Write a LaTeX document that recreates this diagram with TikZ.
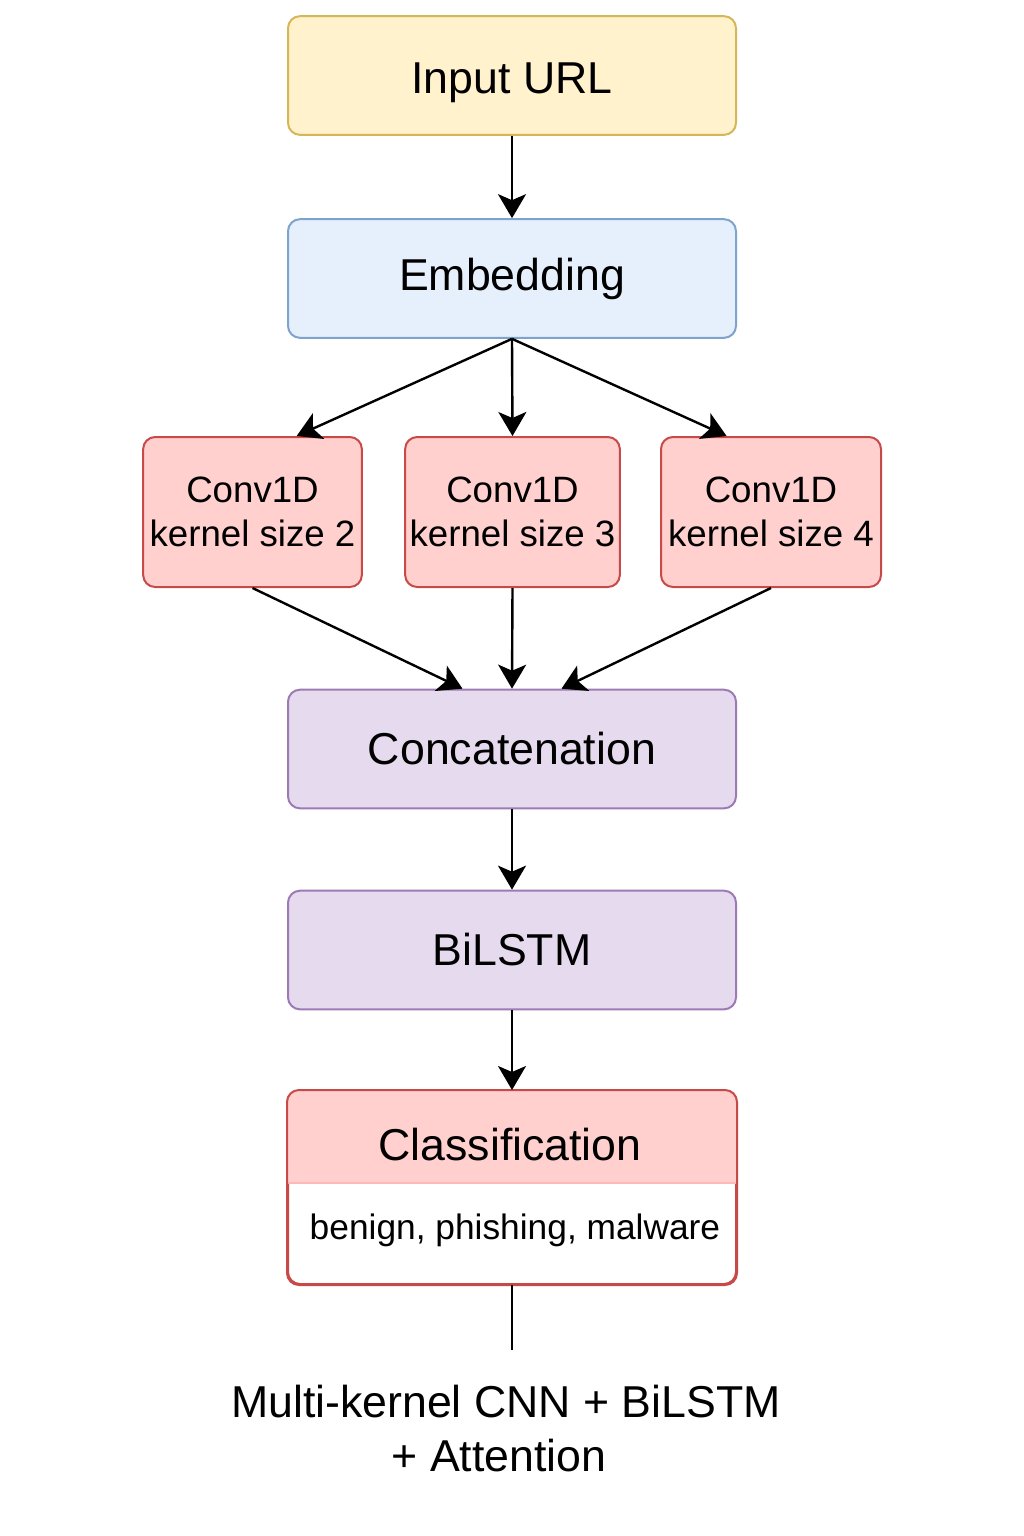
\documentclass[tikz,border=0pt]{standalone}
\usepackage{fontspec}
\setmainfont{Liberation Sans}
\usetikzlibrary{arrows.meta,calc}
\definecolor{yelF}{HTML}{FFF2CC}
\definecolor{yelD}{HTML}{D6B656}
\definecolor{bluF}{HTML}{E6F0FD}
\definecolor{bluD}{HTML}{7EA3CC}
\definecolor{redF}{HTML}{FFD0CE}
\definecolor{redD}{HTML}{C84A48}
\definecolor{purF}{HTML}{E6DAEE}
\definecolor{purD}{HTML}{9E7AB4}
\definecolor{divL}{HTML}{FFB8B8}
\tikzset{
  box/.style={draw, line width=1.5pt, rounded corners=9pt, inner sep=0pt, align=center,
    minimum width=336pt, minimum height=89pt, font=\fontsize{33.5}{40}\selectfont},
  convbox/.style={draw=redD, fill=redF, line width=1.5pt, rounded corners=9pt, inner sep=0pt, align=center,
    minimum height=112.5pt, font=\fontsize{27.5}{33.5}\selectfont},
  arr/.style={line width=1.8pt, -{Stealth[length=18pt,width=21pt,inset=4.5pt]}},
  plainline/.style={line width=1.8pt},
  lbl/.style={inner sep=0pt, align=center}
}
\begin{document}
\begin{tikzpicture}[x=0.75pt,y=-0.75pt]
\useasboundingbox[fill=white] (0,0) rectangle (1024,1536);
\node[box, draw=yelD, fill=yelF, text depth=0pt] (inp) at (512,75.5) {\raisebox{-4pt}{Input URL}};
\node[box, draw=bluD, fill=bluF] (emb) at (512,278.5) {Embedding};
\node[convbox, minimum width=164pt] (c1) at (252.5,512) {Conv1D\\kernel size 2};
\node[convbox, minimum width=161pt] (c2) at (512.5,512) {Conv1D\\kernel size 3};
\node[convbox, minimum width=165pt] (c3) at (771,512) {Conv1D\\kernel size 4};
\node[box, draw=purD, fill=purF] (cat) at (512,749) {Concatenation};
\node[box, draw=purD, fill=purF] (bil) at (512,950) {BiLSTM};
\node[box, draw=redD, fill=white, minimum height=144.75pt] (cls) at (512,1187.5) {};
\begin{scope}
  \clip[rounded corners=9pt] (cls.north west) rectangle (cls.south east);
  \fill[redF] (cls.north west) rectangle ($(cls.north east)+(0,93)$);
  \draw[divL, line width=1pt] ($(cls.north west)+(0,93)$) -- ($(cls.north east)+(0,93)$);
\end{scope}
\draw[redD, line width=1.5pt, rounded corners=9pt] (cls.north west) rectangle (cls.south east);
\node[lbl, font=\fontsize{33.5}{40}\selectfont] (clsT) at (510,1145) {Classification};
\node[lbl, font=\fontsize{26.5}{30}\selectfont] (clsB) at (515,1230) {benign, phishing, malware};
\coordinate (endp) at (512,1350);
\node[lbl, font=\fontsize{33.5}{41}\selectfont] (cap1) at (506,1402) {Multi-kernel CNN + BiLSTM};
\node[lbl, font=\fontsize{33.5}{41}\selectfont] (cap2) at (499,1456) {+ Attention};
% connectors
\draw[arr] (inp.south) -- (emb.north);
\draw[arr] (emb.south) -- ($(c1.north)!0.4!(c1.north east)$);
\draw[arr] (emb.south) -- (c2.north);
\draw[arr] (emb.south) -- ($(c3.north)!0.4!(c3.north west)$);
\draw[arr] (c1.south) -- ($(cat.north)!0.22!(cat.north west)$);
\draw[arr] (c2.south) -- (cat.north);
\draw[arr] (c3.south) -- ($(cat.north)!0.22!(cat.north east)$);
\draw[arr] (cat.south) -- (bil.north);
\draw[arr] (bil.south) -- (cls.north);
\draw[plainline] (cls.south) -- (endp);
\end{tikzpicture}
\end{document}
